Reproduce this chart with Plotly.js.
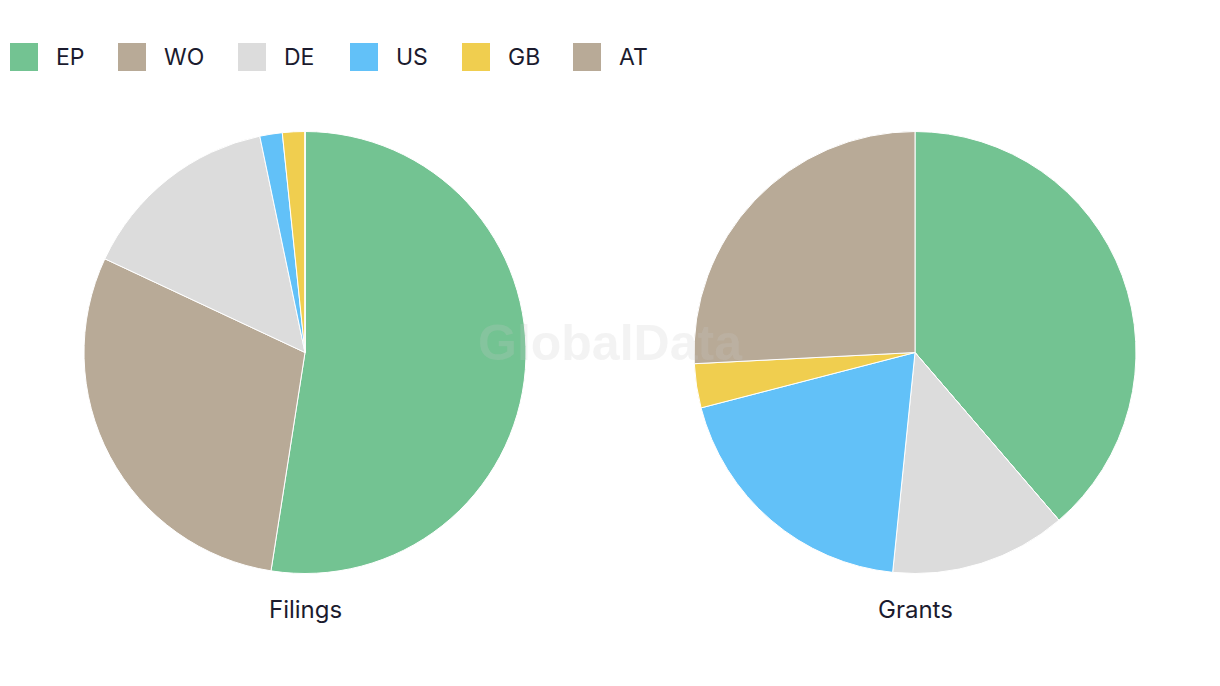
<!DOCTYPE html>
<html>
<head>
<meta charset="utf-8">
<script src="https://cdn.plot.ly/plotly-3.0.1.min.js"></script>
<style>html,body{margin:0;padding:0;background:#fff;}#chart{width:1220px;height:686px;}</style>
</head>
<body>
<div id="chart"></div>
<script>
// ---- data ----
var categories = ["EP", "WO", "DE", "US", "GB", "AT"];
var filingsValues = [32, 18, 9, 1, 1, 0];
var grantsValues = [12, 0, 4, 6, 1, 8];
var chartTitles = ["Filings", "Grants"];
var watermarkText = "GlobalData";

// ---- styles / layout ----
var colors = ["#73c392", "#b8aa97", "#dcdcdc", "#62c1f8", "#f0ce4f", "#b8aa97"];
var W = 1220, H = 686;
var FONT = "Inter, 'Noto Sans', sans-serif";
var TEXTCOL = "#1b1b2e";
var legendX = [10, 118, 238, 350, 462, 573]; // legend swatch left edges (px)
var pieBoxes = [[84, 526], [694, 1136]];      // pie domains (px)
function px(x) { return x / W; }
function py(y) { return 1 - y / H; }

function pieTrace(vals, box) {
  return {
    type: "pie",
    labels: categories,
    values: vals,
    sort: false,
    direction: "clockwise",
    rotation: 0,
    textinfo: "none",
    hoverinfo: "label+value",
    showlegend: false,
    marker: { colors: colors, line: { color: "#ffffff", width: 1 } },
    domain: { x: [px(box[0]), px(box[1])], y: [py(574), py(131)] }
  };
}

var data = [
  pieTrace(filingsValues, pieBoxes[0]),
  pieTrace(grantsValues, pieBoxes[1])
];

var shapes = [], annotations = [];
categories.forEach(function (c, i) {
  var x = legendX[i];
  shapes.push({
    type: "rect", xref: "paper", yref: "paper",
    x0: px(x), x1: px(x + 28), y0: py(71), y1: py(43),
    fillcolor: colors[i], line: { width: 0 }
  });
  annotations.push({
    xref: "paper", yref: "paper", x: px(x + 44), y: py(57),
    xanchor: "left", yanchor: "middle", showarrow: false,
    text: c, font: { family: FONT, size: 23, color: TEXTCOL }
  });
});
chartTitles.forEach(function (t, i) {
  annotations.push({
    xref: "paper", yref: "paper",
    x: px((pieBoxes[i][0] + pieBoxes[i][1]) / 2), y: py(609),
    xanchor: "center", yanchor: "middle", showarrow: false,
    text: t, font: { family: FONT, size: 24, color: TEXTCOL }
  });
});
annotations.push({
  xref: "paper", yref: "paper", x: px(610), y: py(343),
  xanchor: "center", yanchor: "middle", showarrow: false,
  text: "<b>" + watermarkText + "</b>",
  font: { family: "'Liberation Sans', Arial, sans-serif", size: 50, color: "rgba(200,200,200,0.22)" }
});

var layout = {
  width: W, height: H,
  margin: { l: 0, r: 0, t: 0, b: 0 },
  paper_bgcolor: "#ffffff",
  showlegend: false,
  shapes: shapes,
  annotations: annotations,
  font: { family: FONT, color: TEXTCOL }
};

Plotly.newPlot("chart", data, layout, { displayModeBar: false, staticPlot: true });
</script>
</body>
</html>
